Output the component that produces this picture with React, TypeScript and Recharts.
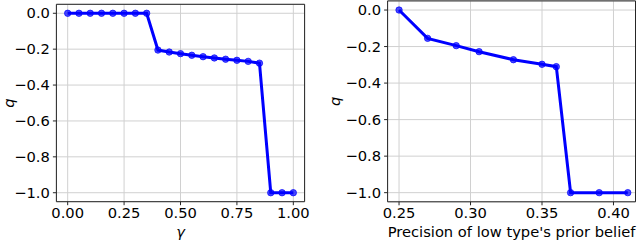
import React from "react";
import { LineChart, Line, XAxis, YAxis, CartesianGrid, ReferenceArea } from "recharts";

const gammaValues = [0, 0.05, 0.1, 0.15, 0.2, 0.25, 0.3, 0.35, 0.4, 0.45, 0.5, 0.55, 0.6, 0.65, 0.7, 0.75, 0.8, 0.85, 0.9, 0.95, 1.0];
const qByGamma = [0, 0, 0, 0, 0, 0, 0, 0, -0.205, -0.216, -0.225, -0.234, -0.242, -0.249, -0.256, -0.262, -0.268, -0.278, -1, -1, -1];

const precisionValues = [0.25, 0.27, 0.29, 0.306, 0.33, 0.35, 0.36, 0.37, 0.39, 0.41];
const qByPrecision = [0, -0.155, -0.195, -0.228, -0.272, -0.297, -0.31, -1, -1, -1];

const leftXTicks = [0, 0.25, 0.5, 0.75, 1.0];
const rightXTicks = [0.25, 0.3, 0.35, 0.4];
const yTicks = [-1.0, -0.8, -0.6, -0.4, -0.2, 0.0];

const leftData = gammaValues.map((x, i) => ({ x, q: qByGamma[i] }));
const rightData = precisionValues.map((x, i) => ({ x, q: qByPrecision[i] }));

const FONT = "DejaVu Sans";
const FS = 14.7;
const BLUE = "#0000ff";
const GRID = "#d0d0d0";
const FRAME = "#262626";

const fmtY = (v: number) => {
  const r = Math.round(v * 10) / 10;
  if (r === 0) return "0.0";
  return (r < 0 ? "\u2212" : "") + Math.abs(r).toFixed(1);
};
const fmtX = (v: number) => v.toFixed(2);

const tickStyle = { fontFamily: FONT, fontSize: FS, fill: "#000" };

const dot = { r: 3.2, fill: BLUE, fillOpacity: 0.7, stroke: BLUE, strokeOpacity: 0.7, strokeWidth: 1 };

type PanelProps = {
  data: { x: number; q: number }[];
  xDomain: [number, number];
  xTicks: number[];
  yAxisWidth: number;
  marginTop: number;
  marginRight: number;
  xAxisHeight: number;
  xLabel: string;
  xLabelItalic: boolean;
  yLabelX: number;
};

function Panel(p: PanelProps) {
  return (
    <LineChart
      width={320}
      height={240}
      data={p.data}
      margin={{ top: p.marginTop, right: p.marginRight, left: 0, bottom: 0 }}
    >
      <CartesianGrid stroke={GRID} strokeWidth={1} />
      <XAxis
        dataKey="x"
        type="number"
        domain={p.xDomain}
        ticks={p.xTicks}
        tickFormatter={fmtX}
        height={p.xAxisHeight}
        tick={tickStyle}
        tickSize={3.5}
        tickMargin={2}
        tickLine={{ stroke: FRAME }}
        axisLine={false}
        allowDataOverflow
        label={{
          content: (props: any) => {
            const vb = props.viewBox;
            return (
              <text
                x={vb.x + vb.width / 2}
                y={231}
                textAnchor="middle"
                dominantBaseline="central"
                fontFamily={FONT}
                fontSize={FS}
                fontStyle={p.xLabelItalic ? "italic" : "normal"}
                fill="#000"
              >
                {p.xLabel}
              </text>
            );
          },
        }}
      />
      <YAxis
        dataKey="q"
        type="number"
        domain={[-1.05, 0.05]}
        ticks={yTicks}
        tickFormatter={fmtY}
        width={p.yAxisWidth}
        tick={tickStyle}
        tickSize={3.5}
        tickMargin={3}
        tickLine={{ stroke: FRAME }}
        axisLine={false}
        allowDataOverflow
        label={{
          content: (props: any) => {
            const vb = props.viewBox;
            const cy = vb.y + vb.height / 2;
            return (
              <text
                x={p.yLabelX}
                y={cy}
                textAnchor="middle"
                dominantBaseline="central"
                fontFamily={FONT}
                fontSize={FS}
                fontStyle="italic"
                fill="#000"
                transform={`rotate(-90, ${p.yLabelX}, ${cy})`}
              >
                q
              </text>
            );
          },
        }}
      />
      <ReferenceArea
        x1={p.xDomain[0]}
        x2={p.xDomain[1]}
        y1={-1.05}
        y2={0.05}
        fill="none"
        fillOpacity={0}
        stroke={FRAME}
        strokeWidth={1}
        ifOverflow="visible"
      />
      <Line
        type="linear"
        dataKey="q"
        stroke={BLUE}
        strokeWidth={3}
        dot={dot}
        activeDot={false}
        isAnimationActive={false}
      />
    </LineChart>
  );
}

export default function App() {
  return (
    <div style={{ position: "absolute", left: 0, top: 0, width: 640, height: 240, background: "#fff" }}>
      <div style={{ position: "absolute", left: 0, top: 0 }}>
        <Panel
          data={leftData}
          xDomain={[-0.05, 1.05]}
          xTicks={leftXTicks}
          yAxisWidth={56.4}
          marginTop={4.3}
          marginRight={15.4}
          xAxisHeight={38.3}
          xLabel="γ"
          xLabelItalic={true}
          yLabelX={8}
        />
      </div>
      <div style={{ position: "absolute", left: 320, top: 0 }}>
        <Panel
          data={rightData}
          xDomain={[0.242, 0.4154]}
          xTicks={rightXTicks}
          yAxisWidth={67.6}
          marginTop={0.9}
          marginRight={4.5}
          xAxisHeight={38.2}
          xLabel="Precision of low type's prior belief"
          xLabelItalic={false}
          yLabelX={15}
        />
      </div>
    </div>
  );
}
